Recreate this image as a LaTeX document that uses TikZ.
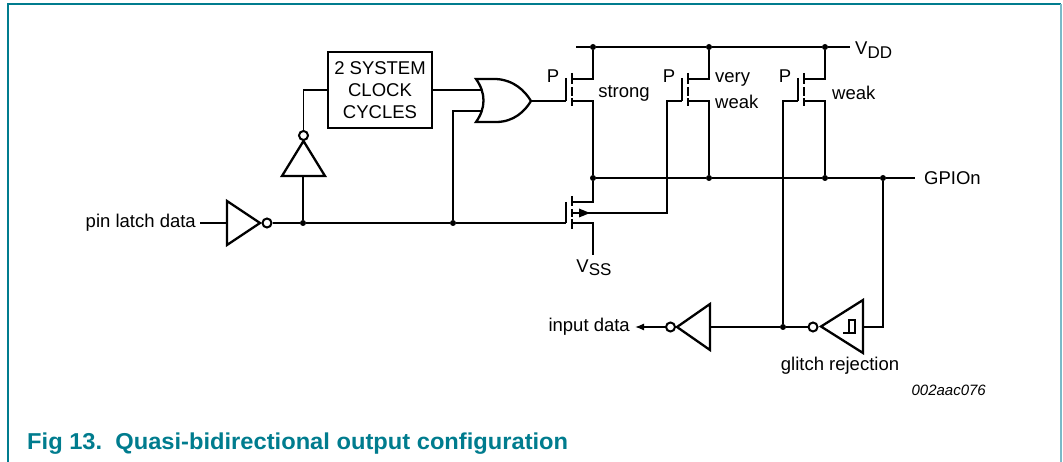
\documentclass[tikz,border=0pt]{standalone}
\usepackage{fontspec}
\setmainfont{Liberation Sans}
\usetikzlibrary{arrows.meta}
\definecolor{nxpteal}{RGB}{0,124,142}
\definecolor{nxplight}{RGB}{122,186,200}
\tikzset{
  wire/.style={line width=1.3pt},
  gate/.style={line width=2.3pt, line join=miter},
  chan/.style={line width=2.6pt},
  dot/.style={circle, fill=black, inner sep=0pt, minimum size=6pt},
  bubble/.style={circle, draw, line width=2pt, fill=white, inner sep=0pt, minimum size=9pt},
  lbl/.style={inner sep=0pt, font=\fontsize{18.5}{22}\selectfont},
}
\begin{document}
\begin{tikzpicture}[x=1pt,y=-1pt]
  \useasboundingbox (0,0) rectangle (1063,462);
  % Frame
  \draw[nxpteal, line width=2pt] (8,462) -- (8,4.5) -- (1061,4.5);
  \draw[nxplight, line width=2pt] (1061,4.5) -- (1061,462);

  % Junctions
  \foreach \n/\x/\y in {j1/303/223, j2/453/223, vs/593/47, vv/709/47, vw/825/47,
                        gs/593/178, gv/709/178, gw/825/178, go/883/178, jin/783/327} {
    \node[dot] (\n) at (\x,\y) {};
  }

  % Input inverter
  \draw[gate] (227,201) -- (260,223) -- (227,245) -- cycle;
  \node[bubble] (b1) at (267,223) {};
  \node[lbl, anchor=east] (pin) at (196,223) {pin latch data};
  \coordinate (in1) at (227,223);
  \draw[wire] ([xshift=4pt]pin.east) -- (in1);
  \draw[wire] (b1) -- (j1) -- (j2) -- (566,223);

  % Delay inverter (pointing up)
  \draw[gate] (282,176) -- (325,176) -- (303.5,141) -- cycle;
  \node[bubble] (b2) at (303.5,135.5) {};
  \draw[wire] (j1) -- (303,176);

  % Delay box
  \node[lbl, draw, line width=2.5pt, minimum width=104pt, minimum height=76pt,
        align=center] (delay) at (380,90) {2 SYSTEM\\CLOCK\\CYCLES};
  \draw[wire] (b2.north) |- (delay.west);

  % OR gate
  \draw[gate] (476,79) -- (496,79) .. controls (514,80) and (525,91) .. (531,101)
              .. controls (525,111) and (514,122) .. (496,122) -- (476,122)
              .. controls (486,108) and (486,93) .. (476,79) -- cycle;
  \coordinate (ora) at (481,90);
  \coordinate (orb) at (482,111);
  \coordinate (orq) at (531,101);
  \draw[wire] (delay.east) -- (ora);
  \draw[wire] (j2) |- (orb);

  % P transistors
  \foreach \g/\n in {566/s,682/v,798/w} {
    \draw[gate] (\g,78) -- (\g,101);
    \draw[chan] (\g+6,73) -- (\g+6,84) (\g+6,87) -- (\g+6,96) (\g+6,98) -- (\g+6,106);
    \draw[wire] (\g+6,79) -| (v\n);
    \draw[wire] (\g+6,101) -| (g\n);
    \coordinate (p\n) at (\g,101);
    \node[lbl] at (\g-13,76) {P};
  }
  \draw[wire] (orq) -- (ps);
  \draw[wire] (576,47) -- (vs) -- (vv) -- (vw) -- (850,47);
  \node[lbl, anchor=base west] (vdd) at (855,55) {V\raisebox{-0.35ex}{\fontsize{17}{17}\selectfont DD}};
  \node[lbl] at (624,93) {strong};
  \node[lbl, anchor=west] at (715,79) {very};
  \node[lbl, anchor=west] at (715,102) {weak};
  \node[lbl, anchor=west] at (832,93) {weak};

  % GPIO rail
  \draw[wire] (gs) -- (gv) -- (gw) -- (go) -- (915,178);
  \node[lbl, anchor=west] (gpio) at (924,178) {GPIOn};

  % N transistor
  \draw[gate] (566,202) -- (566,223);
  \draw[chan] (572,196) -- (572,206) (572,209) -- (572,217) (572,219) -- (572,229);
  \draw[wire] (572,202) -| (gs);
  \draw[wire] (572,223) -| (593,255);
  \draw[wire] (572,213) -- (667,213) |- (pv);
  \fill (590,213) -- (579,208.5) -- (579,217.5) -- cycle;
  \node[lbl] (vss) at (594,268) {V\raisebox{-0.35ex}{\fontsize{17}{17}\selectfont SS}};

  % Weak pull-up gate feedback
  \draw[wire] (pw) -| (jin);

  % Glitch rejection (Schmitt inverter)
  \draw[gate] (863,300) -- (863,353) -- (821,326.5) -- cycle;
  \draw[line width=1.5pt] (843,333) -- (855,333) -- (855,320) -- (849,320) -- (849,333);
  \node[bubble] (b3) at (813,327) {};
  \draw[wire] (go) |- (863,327);
  \node[lbl] (glitch) at (840,366) {glitch rejection};

  % Input inverter
  \draw[gate] (710,304) -- (710,350) -- (677,327) -- cycle;
  \node[bubble] (b4) at (670.5,327) {};
  \draw[wire] (b3) -- (jin) -- (710,327);
  \node[lbl, anchor=east] (indata) at (630,327) {input data};
  \draw[wire, -{Latex[length=9pt,width=7pt]}] (b4.west) -- ([xshift=5pt]indata.east);

  % Labels
  \node[inner sep=0pt, anchor=east, font=\fontsize{15}{15}\selectfont\itshape] (code) at (986,390) {002aac076};
  \node[inner sep=0pt, anchor=base west, text=nxpteal, font=\fontsize{23}{23}\selectfont\bfseries] (cap) at (27,449)
    {\scalebox{1.03}[1]{Fig 13.\ \ Quasi-bidirectional output configuration}};
\end{tikzpicture}
\end{document}
